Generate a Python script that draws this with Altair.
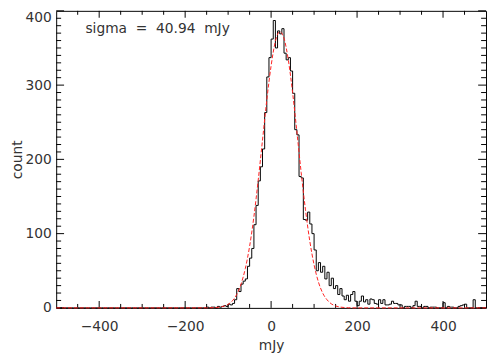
import altair as alt
import pandas as pd
import numpy as np

# ---------------- data ----------------
BIN_START = -500
BIN_WIDTH = 5
# bins -500 .. -165 : empty
left_empty = [0] * 68
# bins -160 .. 495 (left edges, 5 mJy wide)
counts_main = [
    0, 0, 1, 0, 1, 1, 0, 2, 1, 2,            # -160 .. -115
    3, 2, 5, 4, 6, 11, 26, 22, 32, 36,       # -110 .. -65
    39, 56, 67, 80, 112, 138, 171, 190, 214, 263,   # -60 .. -15
    311, 337, 362, 387, 350, 373, 369, 376, 343, 334,  # -10 .. 35
    337, 319, 289, 240, 233, 177, 175, 119, 118, 129,  # 40 .. 85
    113, 100, 78, 50, 61, 48, 56, 39, 48, 30,  # 90 .. 135
    40, 26, 30, 18, 26, 16, 11, 17, 9, 18,     # 140 .. 185
    22, 9, 3, 9, 16, 8, 11, 5, 12, 11,         # 190 .. 235
    6, 5, 11, 6, 11, 4, 4, 5, 9, 6,            # 240 .. 285
    6, 4, 4, 0, 2, 2, 2, 0, 3, 9,              # 290 .. 335
    2, 2, 0, 2, 2, 0, 1, 1, 1, 0,              # 340 .. 385
    0, 0, 7, 0, 2, 1, 1, 0, 0, 2,              # 390 .. 435
    3, 4, 5, 0, 0, 0, 11, 0, 0, 0,             # 440 .. 485
    0, 0,                                      # 490 .. 495
]
counts = left_empty + counts_main

# red dashed Gaussian fit
fit_x = [-500, -200, -150, -130, -120, -110, -100, -90, -80, -70, -60, -50, -40,
         -30, -20, -10, 0, 10, 20, 30, 40, 50, 60, 70, 80, 90, 100, 110, 120,
         130, 140, 150, 160, 170, 180, 200, 500]
fit_y = [0, 0, 0.1, 0.4, 1, 2.3, 4.8, 9.5, 18, 32, 53, 83, 123,
         172, 226, 280, 326, 359, 372, 363, 334, 290, 237, 182, 132, 90, 58, 35, 20,
         11, 5.5, 2.6, 1.2, 0.5, 0.2, 0, 0]

NB = "\u00a0"
annotation = f"sigma{NB}{NB}={NB}{NB}40.94{NB}{NB}mJy"
annot_x = [-432]
annot_y = [375]

x_major = [-400, -200, 0, 200, 400]
x_minor = [-450, -350, -300, -250, -150, -100, -50, 50, 100, 150, 250, 300, 350, 450]
y_major = [0, 100, 200, 300, 400]
y_minor = [v for v in range(10, 400, 10) if v % 100 != 0]

# ---------------- layout / style ----------------
W, H = 437, 302
FONT = "DejaVu Sans"
X_MAJ_LEN, X_MIN_LEN = 7, 4
Y_MAJ_LEN, Y_MIN_LEN = 8, 5

# ---------------- tables ----------------
edges = [BIN_START + BIN_WIDTH * i for i in range(len(counts))] + [BIN_START + BIN_WIDTH * len(counts)]
hist_df = pd.DataFrame({"x": edges, "count": counts + [counts[-1]]})
fit_df = pd.DataFrame({"x": fit_x, "count": fit_y})
text_df = pd.DataFrame({"x": annot_x, "count": annot_y, "label": [annotation]})

xs = alt.Scale(domain=[-500, 500], nice=False, zero=False)
ys = alt.Scale(domain=[0, 400], nice=False, zero=False)

# the same axis definition is given to every layer so they merge cleanly
X_AXIS = alt.Axis(orient="bottom", values=x_major, ticks=False, tickSize=0,
                  domain=False, grid=False, title="mJy", labelPadding=12,
                  titlePadding=5, format="d", labelFlush=False)
Y_AXIS = alt.Axis(orient="left", values=y_major, ticks=False, tickSize=0,
                  domain=False, grid=False, title="count", labelPadding=5,
                  titlePadding=1, format="d",
                  labelBaseline={"condition": {"test": "datum.value == 400", "value": "top"},
                                 "value": "middle"})

hist = alt.Chart(hist_df).mark_line(
    interpolate="step-after", color="black", strokeWidth=1
).encode(
    x=alt.X("x:Q", scale=xs, axis=X_AXIS),
    y=alt.Y("count:Q", scale=ys, axis=Y_AXIS),
)


def xticks(values, length):
    df = pd.DataFrame({"v": values})
    bottom = alt.Chart(df).mark_rule(color="black", strokeWidth=1).encode(
        x=alt.X("v:Q", scale=xs, axis=X_AXIS),
        y=alt.value(H), y2=alt.value(H - length))
    top = alt.Chart(df).mark_rule(color="black", strokeWidth=1).encode(
        x=alt.X("v:Q", scale=xs, axis=X_AXIS),
        y=alt.value(0), y2=alt.value(length))
    return [bottom, top]


def yticks(values, length):
    df = pd.DataFrame({"v": values})
    left = alt.Chart(df).mark_rule(color="black", strokeWidth=1).encode(
        y=alt.Y("v:Q", scale=ys, axis=Y_AXIS),
        x=alt.value(0), x2=alt.value(length))
    right = alt.Chart(df).mark_rule(color="black", strokeWidth=1).encode(
        y=alt.Y("v:Q", scale=ys, axis=Y_AXIS),
        x=alt.value(W), x2=alt.value(W - length))
    return [left, right]


tick_layers = (xticks(x_major, X_MAJ_LEN) + xticks(x_minor, X_MIN_LEN)
               + yticks(y_major, Y_MAJ_LEN) + yticks(y_minor, Y_MIN_LEN))

fit = alt.Chart(fit_df).mark_line(
    color="#ff2020", strokeWidth=1, strokeDash=[4, 2], interpolate="monotone"
).encode(
    x=alt.X("x:Q", scale=xs, axis=X_AXIS),
    y=alt.Y("count:Q", scale=ys, axis=Y_AXIS),
)

txt = alt.Chart(text_df).mark_text(
    align="left", baseline="middle", font=FONT, fontSize=14, color="#333333"
).encode(
    x=alt.X("x:Q", scale=xs, axis=X_AXIS),
    y=alt.Y("count:Q", scale=ys, axis=Y_AXIS),
    text="label:N",
)

chart = alt.layer(hist, *tick_layers, fit, txt).properties(
    width=W, height=H,
    autosize=alt.AutoSizeParams(type="none"),
    padding={"left": 49, "top": 0, "right": 1, "bottom": 45},
    background="white",
).configure_view(
    stroke="black", strokeWidth=1
).configure_axis(
    labelFont=FONT, labelFontSize=14, labelColor="#333333",
    titleFont=FONT, titleFontSize=14, titleColor="#333333", titleFontWeight="normal",
)

chart.save("out.html", embed_options={"renderer": "svg", "actions": False})
